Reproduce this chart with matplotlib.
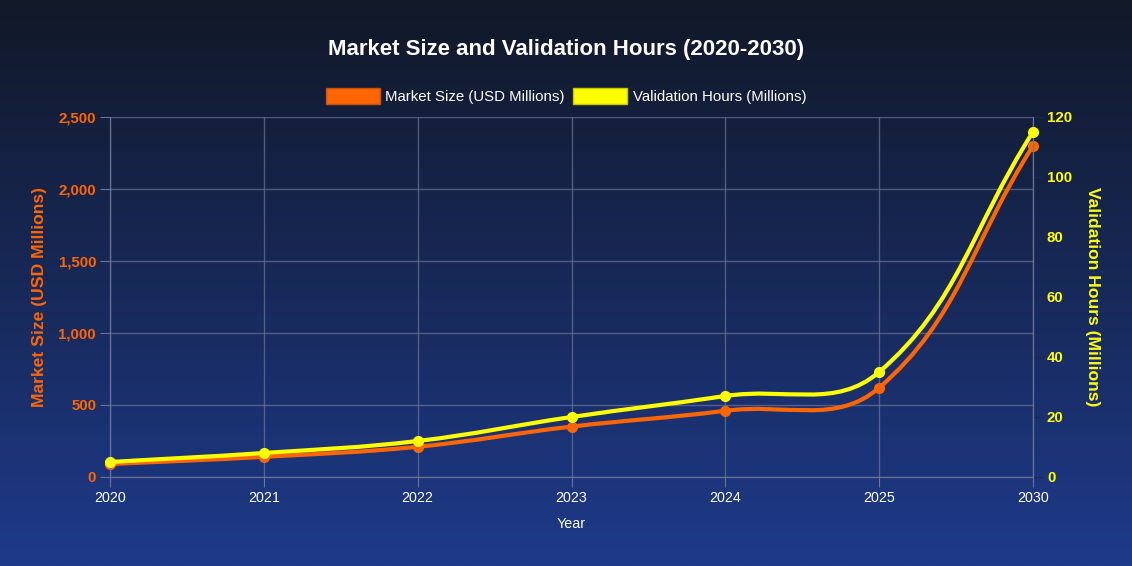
import numpy as np
import matplotlib.pyplot as plt
from matplotlib.path import Path
from matplotlib.patches import PathPatch, Patch

# Data
years = ["2020", "2021", "2022", "2023", "2024", "2025", "2030"]
market_size = [90, 140, 210, 350, 460, 620, 2300]
validation_hours = [5, 8, 12, 20, 27, 35, 115]

orange = "#ff6600"
yellow = "#ffff00"
grid_col = "#6a7596"

plt.rcParams['font.family'] = ['Liberation Sans', 'DejaVu Sans']

W, H = 1132, 566
fig = plt.figure(figsize=(W / 100, H / 100), dpi=100)

# background gradient
bg = fig.add_axes([0, 0, 1, 1], zorder=-10)
grad = np.linspace(0, 1, 256)[:, None]
top = np.array([17, 24, 39]) / 255
bot = np.array([30, 58, 138]) / 255
img = top[None, None, :] * (1 - grad[:, :, None]) + bot[None, None, :] * grad[:, :, None]
bg.imshow(img, aspect="auto", extent=[0, 1, 0, 1])
bg.axis("off")

left, right, topy, boty = 110, 1033, 117, 477
ax = fig.add_axes([left / W, 1 - boty / H, (right - left) / W, (boty - topy) / H])
ax.set_facecolor("none")
ax2 = ax.twinx()

x = np.arange(len(years))
ax.set_xlim(0, len(years) - 1)
ax.set_ylim(0, 2500)
ax2.set_ylim(0, 120)


def chartjs_curve(axis, xs, ys, color, t=0.4):
    pts = axis.transData.transform(np.column_stack([xs, ys]))
    n = len(pts)
    cp_prev = [None] * n
    cp_next = [None] * n
    for i in range(n):
        p0 = pts[max(i - 1, 0)]
        p1 = pts[i]
        p2 = pts[min(i + 1, n - 1)]
        d01 = np.hypot(*(p1 - p0))
        d12 = np.hypot(*(p2 - p1))
        tot = d01 + d12
        s01 = d01 / tot if tot else 0
        s12 = d12 / tot if tot else 0
        cp_prev[i] = p1 - t * s01 * (p2 - p0)
        cp_next[i] = p1 + t * s12 * (p2 - p0)
    verts = [pts[0]]
    codes = [Path.MOVETO]
    for i in range(n - 1):
        verts += [cp_next[i], cp_prev[i + 1], pts[i + 1]]
        codes += [Path.CURVE4] * 3
    inv = axis.transData.inverted()
    verts = inv.transform(np.array(verts))
    patch = PathPatch(Path(verts, codes), facecolor="none", edgecolor=color,
                      lw=3, capstyle="round", joinstyle="round", zorder=3,
                      clip_on=False)
    axis.add_patch(patch)
    axis.plot(xs, ys, "o", color=color, ms=7, zorder=4, clip_on=False)


chartjs_curve(ax, x, market_size, orange)
chartjs_curve(ax2, x, validation_hours, yellow)

# grid and spines
ax.set_xticks(x)
ax.set_xticklabels(years, color="white", fontsize=10.3)
ax.set_yticks([0, 500, 1000, 1500, 2000, 2500])
ax.set_yticklabels(["0", "500", "1,000", "1,500", "2,000", "2,500"],
                   color=orange, fontsize=10.8, fontweight="bold")
ax.grid(True, color=grid_col, lw=1, alpha=0.7)
ax.set_axisbelow(True)
ax.tick_params(axis="both", color=grid_col, length=7, pad=3)
ax2.set_yticks([0, 20, 40, 60, 80, 100, 120])
ax2.set_yticklabels([str(v) for v in [0, 20, 40, 60, 80, 100, 120]],
                    color=yellow, fontsize=10.8, fontweight="bold")
ax2.tick_params(axis="y", color="#1c2850", length=7, pad=3)
for a in (ax, ax2):
    for s in a.spines.values():
        s.set_color(grid_col)
    a.spines["top"].set_visible(False)

ax.set_xlabel("Year", color="white", fontsize=10.3, labelpad=9)
ax.set_ylabel("Market Size (USD Millions)", color=orange, fontsize=12.6,
              fontweight="bold", labelpad=8)
ax2.set_ylabel("Validation Hours (Millions)", color=yellow, fontsize=12.6,
               fontweight="bold", rotation=-90, labelpad=20)

fig.text(0.5, 1 - 50 / H, "Market Size and Validation Hours (2020-2030)",
         ha="center", va="center", color="white", fontsize=16, fontweight="bold")

handles = [Patch(facecolor=orange, edgecolor="#c85010", label="Market Size (USD Millions)"),
           Patch(facecolor=yellow, edgecolor="#c8c800", label="Validation Hours (Millions)")]
fig.legend(handles=handles, loc="center", bbox_to_anchor=(0.5, 1 - 96 / H), ncol=2,
           frameon=False, fontsize=10.8, labelcolor="white", handlelength=3.6,
           handleheight=1.2, handletextpad=0.35, columnspacing=0.6)

fig.savefig("out.png", dpi=100)
